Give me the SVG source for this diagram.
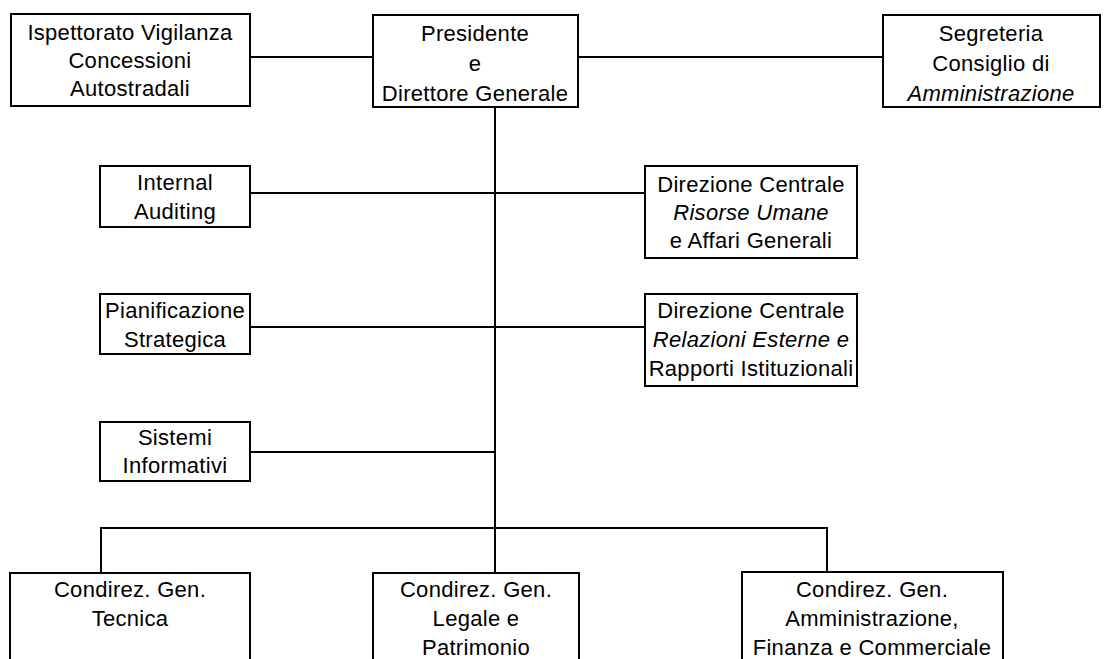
<svg xmlns="http://www.w3.org/2000/svg" width="1105" height="659" viewBox="0 0 1105 659">
<style>
.b{fill:#fff;stroke:#000;stroke-width:2}
.c{fill:none;stroke:#000;stroke-width:2}
text{font-family:"Liberation Sans",Arial,sans-serif;font-size:22px;letter-spacing:0.3px;fill:#000;text-anchor:middle}
.i{font-style:italic}
</style>
<rect width="1105" height="659" fill="#fff"/>
<g id="connectors">
<line class="c" x1="250" y1="57" x2="373" y2="57"/>
<line class="c" x1="578" y1="57" x2="883" y2="57"/>
<line class="c" x1="495" y1="107" x2="495" y2="573"/>
<line class="c" x1="250" y1="193" x2="645" y2="193"/>
<line class="c" x1="250" y1="327" x2="645" y2="327"/>
<line class="c" x1="250" y1="452" x2="495" y2="452"/>
<polyline class="c" points="101,573 101,528 827,528 827,572"/>
</g>
<g id="ispettorato"><rect class="b" x="11" y="14" width="239" height="92"/>
<text x="130" y="40">Ispettorato Vigilanza</text><text x="130" y="68">Concessioni</text><text x="130" y="96">Autostradali</text></g>
<g id="presidente"><rect class="b" x="373" y="15" width="205" height="92"/>
<text x="475" y="41">Presidente</text><text x="475" y="71">e</text><text x="475" y="101">Direttore Generale</text></g>
<g id="segreteria"><rect class="b" x="883" y="15" width="217" height="92"/>
<text x="991" y="41">Segreteria</text><text x="991" y="71">Consiglio di</text><text class="i" x="991" y="101">Amministrazione</text></g>
<g id="internal"><rect class="b" x="100" y="166" width="150" height="61"/>
<text x="175" y="190">Internal</text><text x="175" y="219">Auditing</text></g>
<g id="risorse"><rect class="b" x="645" y="166" width="212" height="92"/>
<text x="751" y="192">Direzione Centrale</text><text class="i" x="751" y="220">Risorse Umane</text><text x="751" y="248">e Affari Generali</text></g>
<g id="pianificazione"><rect class="b" x="100" y="294" width="150" height="60"/>
<text x="175" y="318">Pianificazione</text><text x="175" y="347">Strategica</text></g>
<g id="relazioni"><rect class="b" x="645" y="294" width="212" height="92"/>
<text x="751" y="318">Direzione Centrale</text><text class="i" x="751" y="347">Relazioni Esterne e</text><text x="751" y="376">Rapporti Istituzionali</text></g>
<g id="sistemi"><rect class="b" x="100" y="422" width="150" height="59"/>
<text x="175" y="445">Sistemi</text><text x="175" y="473">Informativi</text></g>
<g id="tecnica"><rect class="b" x="10" y="573" width="240" height="100"/>
<text x="130" y="597">Condirez. Gen.</text><text x="130" y="626">Tecnica</text></g>
<g id="legale"><rect class="b" x="373" y="573" width="206" height="100"/>
<text x="476" y="597">Condirez. Gen.</text><text x="476" y="626">Legale e</text><text x="476" y="655">Patrimonio</text></g>
<g id="amministrazione"><rect class="b" x="742" y="572" width="261" height="100"/>
<text x="872" y="597">Condirez. Gen.</text><text x="872" y="626">Amministrazione,</text><text x="872" y="655">Finanza e Commerciale</text></g>
</svg>
